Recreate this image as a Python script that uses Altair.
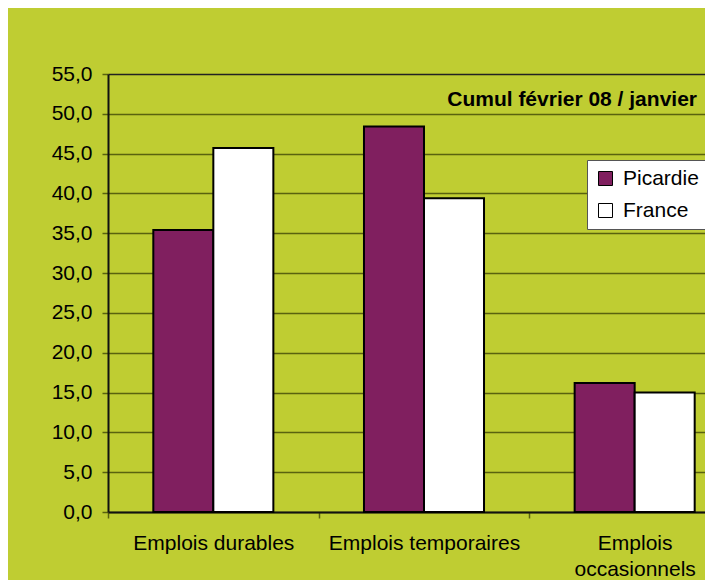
import altair as alt
import pandas as pd

categories = ["Emplois durables", "Emplois temporaires", "Emplois occasionnels"]
series = ["Picardie", "France"]
picardie = [35.4, 48.4, 16.2]
france = [45.7, 39.4, 15.0]
y_ticks = [0, 5, 10, 15, 20, 25, 30, 35, 40, 45, 50, 55]
title_text = "Cumul février 08 / janvier"

rows = []
for c, p, f in zip(categories, picardie, france):
    rows.append({"categorie": c, "zone": "Picardie", "valeur": p})
    rows.append({"categorie": c, "zone": "France", "valeur": f})
df = pd.DataFrame(rows)

GREEN = "#BFCD32"
PURPLE = "#801F5F"
GRID = "#59620F"
FONT = "Liberation Sans"

y_scale = alt.Scale(domain=[0, 55], nice=False)
y_axis = alt.Axis(
    values=y_ticks,
    labelExpr="replace(format(datum.value, '.1f'), '.', ',')",
    labelFontSize=21, labelColor="black", labelFont=FONT,
    labelPadding=10, tickSize=6, tickColor=GRID, tickWidth=1.5,
    domainColor="#111111", domainWidth=2,
    grid=True,
    gridColor=alt.condition("datum.value == 55", alt.value("#222222"), alt.value(GRID)),
    gridWidth=1.6,
)

bars = alt.Chart(df).mark_bar(stroke="black", strokeWidth=2).encode(
    x=alt.X(
        "categorie:N", sort=categories, title=None,
        scale=alt.Scale(range=[0, 632], paddingInner=0, paddingOuter=0),
        axis=alt.Axis(
            labelAngle=0, tickBand="extent", tickSize=6, labelPadding=14,
            labelFontSize=21, labelColor="black", labelFont=FONT,
            domainColor="#111111", domainWidth=2, tickColor=GRID, tickWidth=1.5,
            labelLimit=400, labelOverlap=False, labelLineHeight=26,
            labelExpr="datum.label == 'Emplois occasionnels' ? ['Emplois', 'occasionnels'] : datum.label",
        ),
    ),
    xOffset=alt.XOffset("zone:N", sort=series,
                        scale=alt.Scale(paddingInner=0, paddingOuter=0.755)),
    y=alt.Y("valeur:Q", title=None, scale=y_scale, axis=y_axis),
    color=alt.Color(
        "zone:N", sort=series, title=None,
        scale=alt.Scale(domain=series, range=[PURPLE, "white"]),
        legend=alt.Legend(
            orient="none", legendX=479, legendY=86,
            fillColor="white", strokeColor="#555555", padding=8,
            symbolType="square", symbolSize=196,
            symbolStrokeColor="black", symbolStrokeWidth=1,
            labelFontSize=21, labelFont=FONT, labelColor="black",
            labelOffset=7, rowPadding=10,
        ),
    ),
)

title_mark = alt.Chart(pd.DataFrame({"t": [title_text]})).mark_text(
    align="right", baseline="alphabetic", fontSize=21, font=FONT,
    fontWeight="bold", color="black",
).encode(
    x=alt.value(589),
    y=alt.YDatum(51.0, scale=y_scale, axis=y_axis, title=None),
    text="t:N",
)

chart = alt.layer(bars, title_mark).properties(
    width=597,
    height=438,
    background=GREEN,
    padding={"left": 100, "top": 66, "right": 0, "bottom": 68},
    autosize=alt.AutoSizeParams(type="none"),
).configure_view(strokeWidth=0)

chart.save("out.html", embed_options={"renderer": "svg", "actions": False})
